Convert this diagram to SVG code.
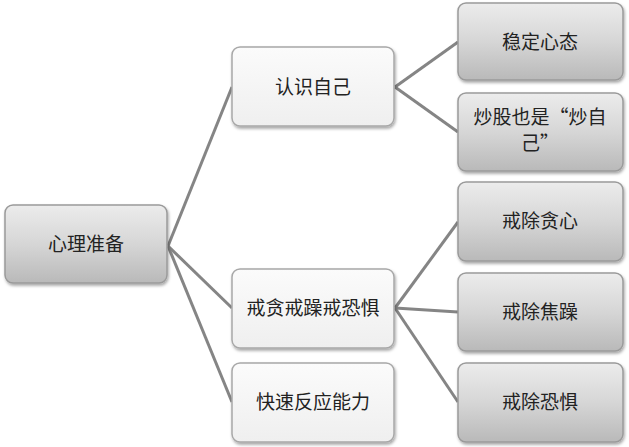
<svg xmlns="http://www.w3.org/2000/svg" width="629" height="447" viewBox="0 0 629 447">
<defs>
<linearGradient id="gGray" x1="0" y1="0" x2="0" y2="1">
<stop offset="0" stop-color="#ececec"/>
<stop offset="0.5" stop-color="#d6d6d6"/>
<stop offset="1" stop-color="#b9b9b9"/>
</linearGradient>
<linearGradient id="gLight" x1="0" y1="0" x2="0" y2="1">
<stop offset="0" stop-color="#fbfbfb"/>
<stop offset="1" stop-color="#efefef"/>
</linearGradient>
<filter id="sh" x="-10%" y="-10%" width="125%" height="130%">
<feDropShadow dx="1" dy="2" stdDeviation="1.5" flood-color="#000" flood-opacity="0.35"/>
</filter>
</defs>
<style>
.dark{fill:url(#gGray);stroke:#9a9a9a;stroke-width:1.5;filter:url(#sh)}
.light{fill:url(#gLight);stroke:#a8a8a8;stroke-width:1.5;filter:url(#sh)}
.t{font-family:"Noto Sans CJK SC","Liberation Sans",sans-serif;font-size:19px;fill:#222;text-anchor:middle}
.c{stroke:#858585;stroke-width:3;fill:none}
</style>
<rect width="629" height="447" fill="#ffffff"/>
<g id="connectors">
<line class="c" x1="168" y1="246" x2="232" y2="87"/>
<line class="c" x1="168" y1="246" x2="232" y2="308"/>
<line class="c" x1="168" y1="246" x2="232" y2="402"/>
<line class="c" x1="395" y1="87" x2="458" y2="42"/>
<line class="c" x1="395" y1="87" x2="458" y2="132"/>
<line class="c" x1="395" y1="308" x2="458" y2="222"/>
<line class="c" x1="395" y1="308" x2="458" y2="312"/>
<line class="c" x1="395" y1="308" x2="458" y2="402"/>
</g>
<g id="root">
<rect class="dark" x="5" y="205" width="162" height="78" rx="8"/>
<text class="t" x="86" y="251">心理准备</text>
</g>
<g id="n-renshi">
<rect class="light" x="232" y="47" width="162" height="79" rx="8"/>
<text class="t" x="313" y="94">认识自己</text>
</g>
<g id="n-jie">
<rect class="light" x="232" y="269" width="162" height="79" rx="8"/>
<text class="t" x="313" y="315">戒贪戒躁戒恐惧</text>
</g>
<g id="n-kuaisu">
<rect class="light" x="232" y="363" width="162" height="79" rx="8"/>
<text class="t" x="313" y="409">快速反应能力</text>
</g>
<g id="n-wending">
<rect class="dark" x="458" y="3" width="165" height="77" rx="8"/>
<text class="t" x="540" y="49">稳定心态</text>
</g>
<g id="n-chaogu">
<rect class="dark" x="458" y="93" width="165" height="78" rx="8"/>
<text class="t" x="540" y="124">炒股也是“炒自</text>
<text class="t" x="540" y="150">己”</text>
</g>
<g id="n-tanxin">
<rect class="dark" x="458" y="182" width="165" height="79" rx="8"/>
<text class="t" x="540" y="228">戒除贪心</text>
</g>
<g id="n-jiaozao">
<rect class="dark" x="458" y="273" width="165" height="78" rx="8"/>
<text class="t" x="540" y="319">戒除焦躁</text>
</g>
<g id="n-kongju">
<rect class="dark" x="458" y="363" width="165" height="79" rx="8"/>
<text class="t" x="540" y="409">戒除恐惧</text>
</g>
</svg>
